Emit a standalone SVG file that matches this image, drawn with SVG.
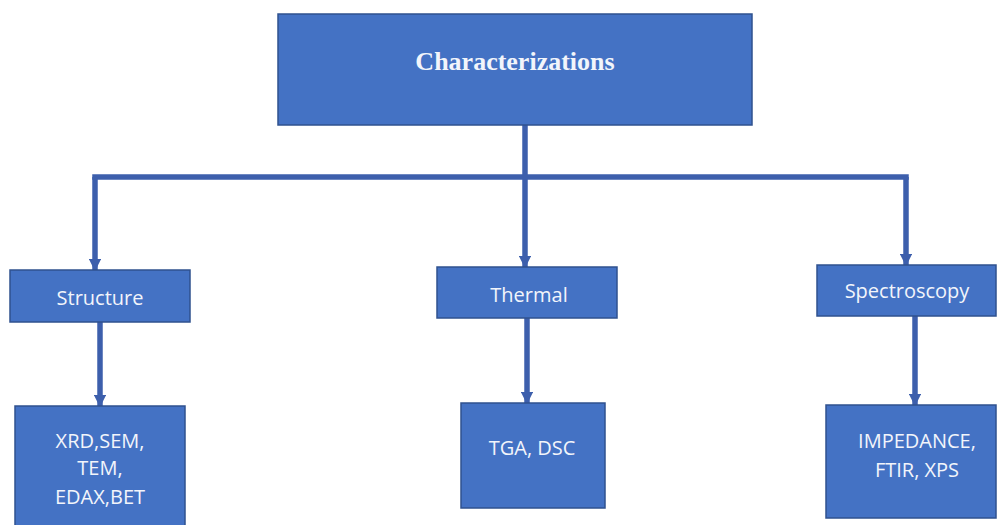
<svg xmlns="http://www.w3.org/2000/svg" width="997" height="525" viewBox="0 0 997 525">
<style>
.box{fill:#4472C4;stroke:#2F528F;stroke-width:1.5}
.t{font-family:"Open Sans","Liberation Sans",sans-serif;font-size:20px;fill:#F2F5FB;text-anchor:middle}
.title{font-family:"Liberation Serif",serif;font-weight:bold;font-size:26px;fill:#F2F5FB;text-anchor:middle}
.ln{fill:none;stroke:#3D5FAC;stroke-width:5.5}
</style>
<defs>
<marker id="ah" viewBox="0 0 10 10" refX="9" refY="5" markerWidth="2.2" markerHeight="2.2" orient="auto" markerUnits="strokeWidth">
<path d="M0,0 L10,5 L0,10 z" fill="#3D5FAC"/>
</marker>
</defs>
<rect width="997" height="525" fill="#FFFFFF"/>
<g id="connectors">
<line class="ln" x1="525" y1="125" x2="525" y2="177"/>
<line class="ln" x1="92.25" y1="177" x2="908.75" y2="177"/>
<line class="ln" x1="95" y1="177" x2="95" y2="270" marker-end="url(#ah)"/>
<line class="ln" x1="906" y1="177" x2="906" y2="265" marker-end="url(#ah)"/>
<line class="ln" x1="525" y1="177" x2="525" y2="267" marker-end="url(#ah)"/>
<line class="ln" x1="100" y1="322" x2="100" y2="406" marker-end="url(#ah)"/>
<line class="ln" x1="527" y1="318" x2="527" y2="403" marker-end="url(#ah)"/>
<line class="ln" x1="915" y1="316" x2="915" y2="405" marker-end="url(#ah)"/>
</g>
<g id="node-characterizations">
<rect class="box" x="278" y="14" width="474" height="111"/>
<text class="title" x="515" y="70">Characterizations</text>
</g>
<g id="node-structure">
<rect class="box" x="10" y="270" width="180" height="52"/>
<text class="t" x="100" y="305">Structure</text>
</g>
<g id="node-thermal">
<rect class="box" x="437" y="267" width="180" height="51"/>
<text class="t" x="529" y="302">Thermal</text>
</g>
<g id="node-spectroscopy">
<rect class="box" x="817" y="265" width="179" height="51"/>
<text class="t" x="907" y="298">Spectroscopy</text>
</g>
<g id="node-xrd">
<rect class="box" x="15" y="406" width="170" height="125"/>
<text class="t" x="100" y="448">XRD,SEM,</text>
<text class="t" x="100" y="475">TEM,</text>
<text class="t" x="100" y="504">EDAX,BET</text>
</g>
<g id="node-tga">
<rect class="box" x="461" y="403" width="144" height="105"/>
<text class="t" x="532" y="455">TGA, DSC</text>
</g>
<g id="node-impedance">
<rect class="box" x="826" y="405" width="170" height="113"/>
<text class="t" x="917" y="448">IMPEDANCE,</text>
<text class="t" x="917" y="477">FTIR, XPS</text>
</g>
</svg>
